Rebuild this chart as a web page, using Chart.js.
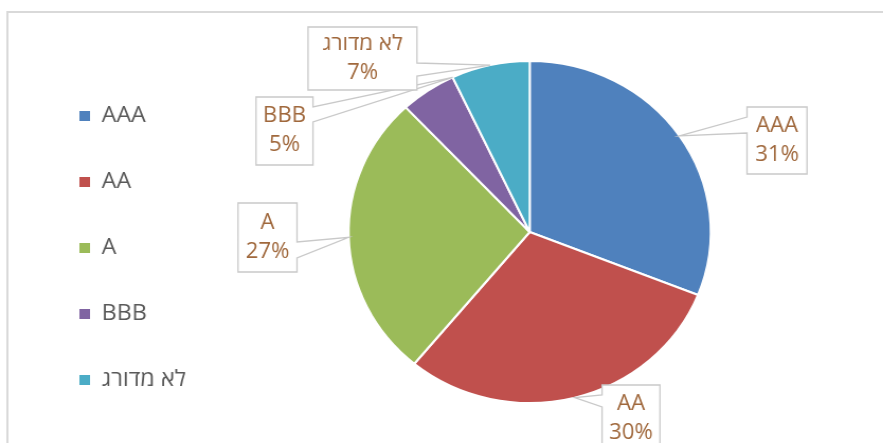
<!DOCTYPE html>
<html>
<head>
<meta charset="utf-8">
<script src="https://cdn.jsdelivr.net/npm/chart.js@4/dist/chart.umd.min.js"></script>
<style>
  html, body { margin: 0; padding: 0; background: #ffffff; overflow: hidden; }
  #wrap { width: 834px; height: 443px; transform: scaleX(1.0588); transform-origin: 0 0; }
  canvas { display: block; }
</style>
</head>
<body>
<div id="wrap"><canvas id="c" width="834" height="443"></canvas></div>
<script>
// Rating breakdown of the portfolio (percent of total)
const categories = ['AAA', 'AA', 'A', 'BBB', 'לא מדורג'];
const shares = [31, 30, 27, 5, 7];

// Slice colours, one per category
const sliceColors = ['#4F81BD', '#C0504D', '#9BBB59', '#8064A2', '#4BACC6'];

// Callout boxes: left/right/top/bottom of each box, the edge the pointer leaves from,
// the pointer's two attach offsets along that edge, and where on the slice it points.
const calloutBoxes = [
  { l: 705.5, r: 762.2, t: 107, b: 174, side: 'left',  a: 10, z: 26, frac: 0.5 },
  { l: 568.6, r: 623.3, t: 385, b: 452, side: 'left',  a: 10, z: 22, frac: 0.5 },
  { l: 224.8, r: 280.5, t: 203, b: 272, side: 'right', a: 39, z: 55, frac: 0.5 },
  { l: 241.8, r: 295.6, t: 97,  b: 165, side: 'right', a: 10, z: 25, frac: 1.0 },
  { l: 290.9, r: 393.8, t: 27,  b: 90,  side: 'right', a: 36, z: 49, frac: 0.5 }
];

const FONT = "'Open Sans', 'DejaVu Sans', sans-serif";

const framePlugin = {
  id: 'frame',
  beforeDraw(chart) {
    const ctx = chart.ctx;
    ctx.save();
    ctx.fillStyle = '#ffffff';
    ctx.fillRect(0, 0, chart.width, chart.height);
    ctx.strokeStyle = '#D9D9D9';
    ctx.lineWidth = 2;
    ctx.strokeRect(7, 12, chart.width + 40, chart.height + 40);
    ctx.restore();
  }
};

const calloutPlugin = {
  id: 'callouts',
  afterDatasetsDraw(chart) {
    const ctx = chart.ctx;
    const meta = chart.getDatasetMeta(0);
    const values = chart.data.datasets[0].data;
    ctx.save();
    meta.data.forEach((arc, i) => {
      const box = calloutBoxes[i];
      if (!box) return;
      const p = arc.getProps(['x', 'y', 'startAngle', 'endAngle', 'outerRadius'], true);
      const ang = p.startAngle + (p.endAngle - p.startAngle) * box.frac;
      const tx = p.x + Math.cos(ang) * p.outerRadius;
      const ty = p.y + Math.sin(ang) * p.outerRadius;

      ctx.beginPath();
      if (box.side === 'left') {
        ctx.moveTo(box.l, box.t);
        ctx.lineTo(box.r, box.t);
        ctx.lineTo(box.r, box.b);
        ctx.lineTo(box.l, box.b);
        ctx.lineTo(box.l, box.t + box.z);
        ctx.lineTo(tx, ty);
        ctx.lineTo(box.l, box.t + box.a);
      } else {
        ctx.moveTo(box.l, box.t);
        ctx.lineTo(box.r, box.t);
        ctx.lineTo(box.r, box.t + box.a);
        ctx.lineTo(tx, ty);
        ctx.lineTo(box.r, box.t + box.z);
        ctx.lineTo(box.r, box.b);
        ctx.lineTo(box.l, box.b);
      }
      ctx.closePath();
      ctx.fillStyle = '#ffffff';
      ctx.fill();
      ctx.strokeStyle = '#C9C9C9';
      ctx.lineWidth = 1.3;
      ctx.stroke();

      const cx = (box.l + box.r) / 2;
      const cy = (box.t + box.b) / 2;
      ctx.fillStyle = '#A0683C';
      ctx.font = '21px ' + FONT;
      ctx.textAlign = 'center';
      ctx.textBaseline = 'middle';
      ctx.fillText(chart.data.labels[i], cx, cy - 14.5);
      ctx.fillText(values[i] + '%', cx, cy + 14.5);
    });
    ctx.restore();
  }
};

new Chart(document.getElementById('c'), {
  type: 'pie',
  data: {
    labels: categories,
    datasets: [{
      data: shares,
      backgroundColor: sliceColors,
      borderColor: '#ffffff',
      borderWidth: 2
    }]
  },
  options: {
    responsive: false,
    animation: false,
    devicePixelRatio: 1,
    radius: 171,
    layout: { padding: { left: 31, right: 19, top: 29, bottom: 8 } },
    plugins: {
      tooltip: { enabled: false },
      legend: {
        position: 'left',
        align: 'end',
        labels: {
          boxWidth: 10,
          boxHeight: 10,
          padding: 44,
          color: '#595959',
          font: { size: 22, family: FONT },
          generateLabels(chart) {
            const base = Chart.overrides.pie.plugins.legend.labels.generateLabels(chart);
            return base.map(item => Object.assign(item, { lineWidth: 0, strokeStyle: item.fillStyle }));
          }
        }
      }
    }
  },
  plugins: [framePlugin, calloutPlugin]
});
</script>
</body>
</html>
